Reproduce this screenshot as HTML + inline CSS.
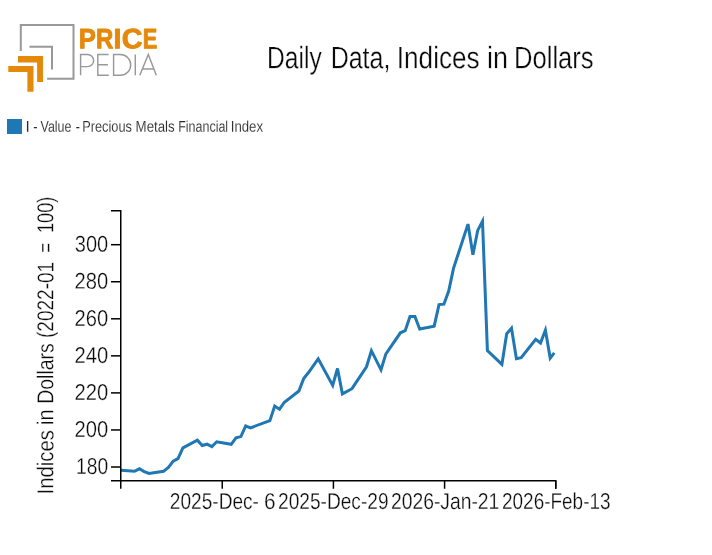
<!DOCTYPE html>
<html><head><meta charset="utf-8"><title>Daily Data, Indices in Dollars</title>
<style>
html,body{margin:0;padding:0;background:#fff;}
body{width:712px;height:555px;overflow:hidden;font-family:"Liberation Sans",sans-serif;}
svg{display:block;will-change:transform;}
text{font-family:"Liberation Sans",sans-serif;}

</style></head><body>
<svg width="712" height="555" viewBox="0 0 712 555">
<!-- logo -->
<g fill="none" stroke="#999" stroke-width="2">
<path d="M20.8,51 V24.9 H73.5 V78.8 H47.1"/>
<path d="M29.5,46.8 H52 V69.6"/>
</g>
<g fill="#e5890a">
<path d="M18,56.1 H43 V81.9 H37.1 V62.4 H18 Z"/>
<path d="M8.3,66 H33.5 V91.8 H27.4 V72 H8.3 Z"/>
</g>
<g class="t" fill="#e5890a" stroke="#e5890a" stroke-width="0.9" stroke-linejoin="round"><text transform="translate(78.85,48.15) scale(0.9134,1) rotate(0.03)" font-size="28.0" font-weight="bold">P</text><text transform="translate(96.03,48.15) scale(0.8565,1) rotate(0.03)" font-size="28.0" font-weight="bold">R</text><text transform="translate(113.52,48.15) scale(1.0081,1) rotate(0.03)" font-size="28.0" font-weight="bold">I</text><text transform="translate(121.71,48.15) scale(1.0239,1) rotate(0.03)" font-size="28.0" font-weight="bold">C</text><text transform="translate(142.73,48.15) scale(0.7775,1) rotate(0.03)" font-size="28.0" font-weight="bold">E</text></g>
<g fill="none" stroke="#999" stroke-width="1.45">
<path d="M80.6,75.3 V54.5 H87.6 A6.05,6.05 0 0 1 87.6,66.6 H80.6"/>
<path d="M108.6,54.5 H97.8 V75.3 H108.8 M97.8,64.7 H107.9"/>
<path d="M113.6,54.5 V75.3 H120.3 A10.4,10.4 0 0 0 120.3,54.5 Z"/>
<path d="M135.3,54.5 V75.3"/>
<path d="M139.8,75.3 L148.3,54.5 L156.3,75.3 M142.4,69 H153.8"/>
</g>
<!-- title -->
<g class="t" fill="#0a0a0a" stroke="#fff" stroke-width="0.3"><text transform="translate(267.12,68.15) scale(0.7917,1) rotate(0.03)" font-size="31.01">Daily</text><text transform="translate(330.68,68.15) scale(0.8053,1) rotate(0.03)" font-size="31.01">Data,</text><text transform="translate(396.82,68.15) scale(0.8428,1) rotate(0.03)" font-size="31.01">Indices</text><text transform="translate(486.91,68.15) scale(0.8713,1) rotate(0.03)" font-size="31.01">in</text><text transform="translate(514.03,68.15) scale(0.8253,1) rotate(0.03)" font-size="31.01">Dollars</text></g>
<!-- legend -->
<rect x="7" y="119" width="15" height="15" fill="#1f77b4"/>
<g class="t" fill="#2a2a2a" stroke="#fff" stroke-width="0.12"><text transform="translate(25.55,131.76) scale(0.9884,1) rotate(0.03)" font-size="15.64">I</text><text transform="translate(33.16,131.76) scale(0.8352,1) rotate(0.03)" font-size="15.64">-</text><text transform="translate(40.49,131.76) scale(0.7981,1) rotate(0.03)" font-size="15.64">Value</text><text transform="translate(75.44,131.76) scale(0.8621,1) rotate(0.03)" font-size="15.64">-</text><text transform="translate(82.13,131.76) scale(0.8197,1) rotate(0.03)" font-size="15.64">Precious</text><text transform="translate(135.59,131.76) scale(0.8495,1) rotate(0.03)" font-size="15.64">Metals</text><text transform="translate(178.15,131.76) scale(0.7994,1) rotate(0.03)" font-size="15.64">Financial</text><text transform="translate(230.76,131.76) scale(0.8453,1) rotate(0.03)" font-size="15.64">Index</text></g>
<!-- line -->
<polyline points="121.0,470.3 134.5,471.3 139.4,468.8 144.2,471.6 149.0,473.5 163.5,471.3 168.4,467.4 173.2,461.2 178.0,458.7 182.9,447.8 197.4,440.2 202.2,445.5 207.0,444.2 211.9,446.6 216.7,441.8 231.2,444.3 236.0,437.9 240.9,436.6 245.7,426.0 250.5,427.8 269.9,420.7 274.7,406.1 279.5,409.2 284.4,402.2 298.9,391.0 303.7,378.5 308.5,372.5 318.2,358.8 332.7,385.4 337.5,368.5 342.4,393.9 352.0,388.7 366.5,366.8 371.4,350.7 381.0,369.8 385.9,353.9 400.4,332.8 405.2,330.7 410.0,316.4 414.9,316.4 419.7,329.0 434.2,326.2 439.0,304.6 443.9,304.2 448.7,291.1 453.5,268.4 468.0,224.1 472.9,254.7 477.7,230.4 482.5,221.2 487.4,350.5 501.9,364.4 506.7,333.7 511.5,328.2 516.4,358.8 521.2,357.7 535.7,339.3 540.5,343.0 545.4,330.1 550.2,358.1 554.3,352.9" fill="none" stroke="#1f77b4" stroke-width="3"/>
<!-- axes -->
<g stroke="#000" stroke-width="1.5" fill="none">
<path d="M111,210.75 H120.75 V488.75"/>
<path d="M111,480.75 H555.75 V488.75"/>
<line x1="111" x2="120.75" y1="467.00" y2="467.00"/><line x1="111" x2="120.75" y1="429.95" y2="429.95"/><line x1="111" x2="120.75" y1="392.90" y2="392.90"/><line x1="111" x2="120.75" y1="355.85" y2="355.85"/><line x1="111" x2="120.75" y1="318.80" y2="318.80"/><line x1="111" x2="120.75" y1="281.75" y2="281.75"/><line x1="111" x2="120.75" y1="244.70" y2="244.70"/>
<line x1="222.25" x2="222.25" y1="480.75" y2="488.75"/><line x1="333.42" x2="333.42" y1="480.75" y2="488.75"/><line x1="444.58" x2="444.58" y1="480.75" y2="488.75"/><line x1="555.75" x2="555.75" y1="480.75" y2="488.75"/>
</g>
<g class="t" fill="#0a0a0a" stroke="#fff" stroke-width="0.3"><text transform="translate(76.03,474.10) scale(0.8385,1) rotate(0.03)" font-size="22.97">180</text><text transform="translate(74.56,437.05) scale(0.8780,1) rotate(0.03)" font-size="22.97">200</text><text transform="translate(74.56,400.00) scale(0.8780,1) rotate(0.03)" font-size="22.97">220</text><text transform="translate(74.56,362.95) scale(0.8780,1) rotate(0.03)" font-size="22.97">240</text><text transform="translate(74.56,325.90) scale(0.8780,1) rotate(0.03)" font-size="22.97">260</text><text transform="translate(74.56,288.85) scale(0.8780,1) rotate(0.03)" font-size="22.97">280</text><text transform="translate(74.77,251.80) scale(0.8724,1) rotate(0.03)" font-size="22.97">300</text></g>
<g class="t" fill="#0a0a0a" stroke="#fff" stroke-width="0.3"><text transform="translate(169.82,508.90) scale(0.8312,1) rotate(0.03)" font-size="22.97">2025-Dec-</text><text transform="translate(264.12,508.90) scale(0.9059,1) rotate(0.03)" font-size="22.97">6</text><text transform="translate(278.12,508.90) scale(0.8320,1) rotate(0.03)" font-size="22.97">2025-Dec-29</text><text transform="translate(391.01,508.90) scale(0.8403,1) rotate(0.03)" font-size="22.97">2026-Jan-21</text><text transform="translate(502.03,508.90) scale(0.8254,1) rotate(0.03)" font-size="22.97">2026-Feb-13</text></g>
<g class="t" fill="#0a0a0a" stroke="#fff" stroke-width="0.3" transform="translate(53.2,492.5) rotate(-90)"><text transform="translate(-1.96,0.15) scale(0.8845,1) rotate(0.03)" font-size="22.97">Indices</text><text transform="translate(67.57,0.15) scale(0.8680,1) rotate(0.03)" font-size="22.97">in</text><text transform="translate(88.71,0.15) scale(0.8482,1) rotate(0.03)" font-size="22.97">Dollars</text><text transform="translate(154.54,0.15) scale(0.8276,1) rotate(0.03)" font-size="22.97">(2022-01</text><text transform="translate(239.75,0.15) scale(0.7288,1) rotate(0.03)" font-size="22.97">=</text><text transform="translate(259.42,0.15) scale(0.7922,1) rotate(0.03)" font-size="22.97">100)</text></g>
</svg>
</body></html>
